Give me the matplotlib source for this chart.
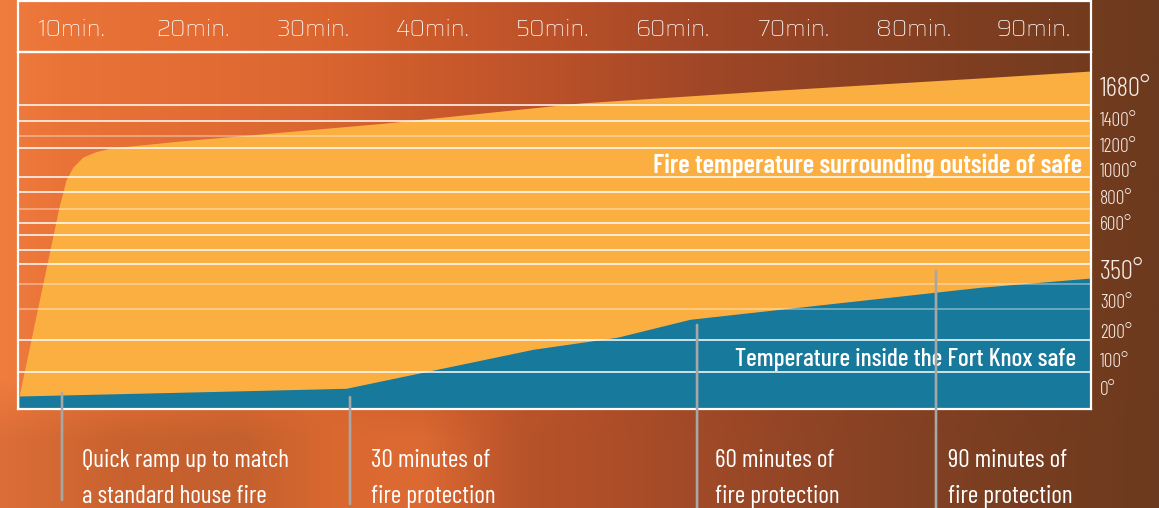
import numpy as np
import matplotlib
matplotlib.use("Agg")
import matplotlib.pyplot as plt
from matplotlib import transforms
from matplotlib.patches import Rectangle
from matplotlib.colors import to_rgb

# ---------------- data ----------------
MINUTE_TICKS = [10, 20, 30, 40, 50, 60, 70, 80, 90]
MINUTE_LABELS = ["10min.", "20min.", "30min.", "40min.", "50min.",
                 "60min.", "70min.", "80min.", "90min."]

TEMP_TICKS = [0, 100, 200, 300, 350, 600, 800, 1000, 1200, 1400, 1680]
TEMP_LABELS = ["0°", "100°", "200°", "300°", "350°", "600°", "800°",
               "1000°", "1200°", "1400°", "1680°"]
BIG_TICKS = [350, 1680]

# fire temperature surrounding the safe (minutes, degrees)
FIRE_MIN = [5.6, 8.34, 8.92, 9.50, 10.08, 10.91, 11.91, 13.16, 18.98,
            35.61, 52.25, 68.88, 85.51, 94.74]
FIRE_TEMP = [0, 552, 785, 985, 1088, 1168, 1208, 1238, 1292,
             1430, 1610, 1724, 1829, 1890]

# temperature inside the safe
INSIDE_MIN = [5.6, 20.64, 32.79, 48.34, 55.32, 61.39, 68.88, 85.51, 94.74]
INSIDE_TEMP = [0, 15, 27.5, 164.5, 205.7, 265.7, 299, 335, 350]

# decorative horizontal rules (degrees)
GRID_BRIGHT = [86, 197, 425, 500, 580, 660, 896, 1010, 1240, 1450, 1590]
GRID_FAINT = [300, 340, 769, 1330]

# call-outs
ANNOT_MIN = [9.17, 33.12, 61.98, 81.85]
ANNOT_TOP = [11, -4, 247, 387]
ANNOT_TEXT = [("Quick ramp up to match", "a standard house fire"),
              ("30 minutes of", "fire protection"),
              ("60 minutes of", "fire protection"),
              ("90 minutes of", "fire protection")]

FIRE_LABEL = "Fire temperature surrounding outside of safe"
INSIDE_LABEL = "Temperature inside the Fort Knox safe"

# ---------------- layout / style ----------------
W, H, DPI = 1159, 508, 100
X_LEFT_PX, X_RIGHT_PX = 18, 1091
Y_TOP_PX, Y_BOT_PX = 52, 408.5
TICK_ROW_PX = [396, 368, 339, 309, 278, 231, 205, 178, 153, 127, 95]  # scale knots
ANNOT_BOTTOM_PX = [500, 504, 508, 508]
ANNOT_TEXT_X_PX = [82, 371, 715, 948]
ANNOT_BASE_PX = [467, 503]

YELLOW = "#fbaf41"
BLUE = "#17799b"
CREAM = "#f6ece4"
GRAY = "#a7a7a7"

COND = ["Barlow Condensed", "DejaVu Sans"]
HEAD = ["Saira", "Exo 2", "Roboto", "DejaVu Sans"]


def _lin(x, xp, fp):
    x = np.asarray(x, dtype=float)
    y = np.interp(x, xp, fp)
    y = np.where(x < xp[0], fp[0] + (x - xp[0]) * (fp[1] - fp[0]) / (xp[1] - xp[0]), y)
    y = np.where(x > xp[-1], fp[-1] + (x - xp[-1]) * (fp[-1] - fp[-2]) / (xp[-1] - xp[-2]), y)
    return y


TT = np.array(TEMP_TICKS, float)
PP = -np.array(TICK_ROW_PX, float)
fwd = lambda t: _lin(t, TT, PP)
inv = lambda v: _lin(v, PP, TT)

# x scale: header label centres
MIN_PX0, MIN_PX_PER = 72.0, 12.025
def px2min(px):
    return 10 + (px - MIN_PX0) / MIN_PX_PER

fig = plt.figure(figsize=(W / DPI, H / DPI), dpi=DPI)

# background
bg = fig.add_axes([0, 0, 1, 1], zorder=-10)
bg.set_axis_off()
xs = np.linspace(0, W, 400)
top_stops = [(0, "#f07c3e"), (60, "#ea7338"), (300, "#dd6731"), (450, "#c9592b"),
             (580, "#b64f29"), (700, "#a14727"), (850, "#8d4224"), (1000, "#7c3d20"),
             (1159, "#6c3a1e")]
bot_stops = [(0, "#dc6e38"), (120, "#c9622f"), (240, "#c3602e"), (330, "#d9682f"),
             (420, "#dd6a32"), (520, "#b8532a"), (650, "#a84c28"), (850, "#8a4325"),
             (1000, "#7a3e21"), (1159, "#6c3a1e")]
def grad(stops):
    sx = [s[0] for s in stops]
    cols = np.array([to_rgb(s[1]) for s in stops])
    return np.stack([np.interp(xs, sx, cols[:, i]) for i in range(3)], axis=1)
gt, gb = grad(top_stops), grad(bot_stops)
ys = np.linspace(0, H, 200)
wv = np.clip((ys - 380) / 60, 0, 1)[:, None, None]
img = gt[None, :, :] * (1 - wv) + gb[None, :, :] * wv
bg.imshow(img, extent=[0, W, H, 0], aspect="auto", interpolation="bilinear")
bg.set_xlim(0, W)
bg.set_ylim(H, 0)

ax = fig.add_axes([X_LEFT_PX / W, 1 - Y_BOT_PX / H,
                   (X_RIGHT_PX - X_LEFT_PX) / W, (Y_BOT_PX - Y_TOP_PX) / H])
ax.patch.set_alpha(0)
ax.set_yscale("function", functions=(fwd, inv))
ymin, ymax = float(inv(-Y_BOT_PX)), float(inv(-Y_TOP_PX))
ax.set_ylim(ymin, ymax)
ax.set_xlim(px2min(X_LEFT_PX), px2min(X_RIGHT_PX))
ax.set_xticks([])
ax.set_yticks([])
ax.minorticks_off()
for s in ax.spines.values():
    s.set_color("white")
    s.set_linewidth(1.6)

ax.fill_between(FIRE_MIN, ymin, FIRE_TEMP, color=YELLOW, lw=0, zorder=1)
ax.fill_between(INSIDE_MIN, ymin, INSIDE_TEMP, color=BLUE, lw=0, zorder=2)
for g in GRID_BRIGHT:
    ax.axhline(g, color="white", lw=1.1, zorder=3)
for g in GRID_FAINT:
    ax.axhline(g, color="white", lw=1.1, alpha=0.45, zorder=3)

# header box
fig.patches.append(Rectangle((X_LEFT_PX / W, 1 - Y_TOP_PX / H),
                             (X_RIGHT_PX - X_LEFT_PX) / W, (Y_TOP_PX - 1.5) / H,
                             transform=fig.transFigure, fill=False,
                             edgecolor="white", lw=1.6, zorder=5))

# header minute labels
hdr_tr = transforms.blended_transform_factory(ax.transData, ax.transAxes) + \
    transforms.ScaledTranslation(0, 16 / DPI, fig.dpi_scale_trans)
for m, lab in zip(MINUTE_TICKS, MINUTE_LABELS):
    ax.text(m, 1, lab, transform=hdr_tr, ha="center", va="baseline",
            fontsize=16.5, family=HEAD, fontweight="medium", color="white", clip_on=False)

# right temperature labels
r_tr = transforms.blended_transform_factory(ax.transAxes, ax.transData) + \
    transforms.ScaledTranslation(9 / DPI, 6 / DPI, fig.dpi_scale_trans)
for t, lab in zip(TEMP_TICKS, TEMP_LABELS):
    big = t in BIG_TICKS
    ax.text(1, t, lab, transform=r_tr, ha="left", va="center",
            fontsize=19.5 if big else 14, family=COND, fontweight=300,
            color=CREAM, clip_on=False)

# series labels
ax.text(px2min(1082), 1040, FIRE_LABEL, ha="right", va="baseline", fontsize=19.3,
        fontweight=600, family=COND, color="white", zorder=6)
ax.text(px2min(1076), 108, INSIDE_LABEL, ha="right", va="baseline", fontsize=18.3,
        fontweight=500, family=COND, color="white", zorder=6)

# call-out lines and texts
bl_tr = transforms.blended_transform_factory(ax.transData, fig.transFigure)
for m, top, bot in zip(ANNOT_MIN, ANNOT_TOP, ANNOT_BOTTOM_PX):
    ax.annotate("", xy=(m, top), xycoords="data", xytext=(m, 1 - bot / H),
                textcoords=bl_tr,
                arrowprops=dict(arrowstyle="-", color=GRAY, lw=1.9,
                                shrinkA=0, shrinkB=0),
                annotation_clip=False, zorder=8)
for xpx, lines in zip(ANNOT_TEXT_X_PX, ANNOT_TEXT):
    for bpx, line in zip(ANNOT_BASE_PX, lines):
        fig.text(xpx / W, 1 - bpx / H, line, ha="left", va="baseline",
                 fontsize=18.3, family=COND, fontweight=400, color="white")

fig.savefig("out.png", dpi=DPI)
